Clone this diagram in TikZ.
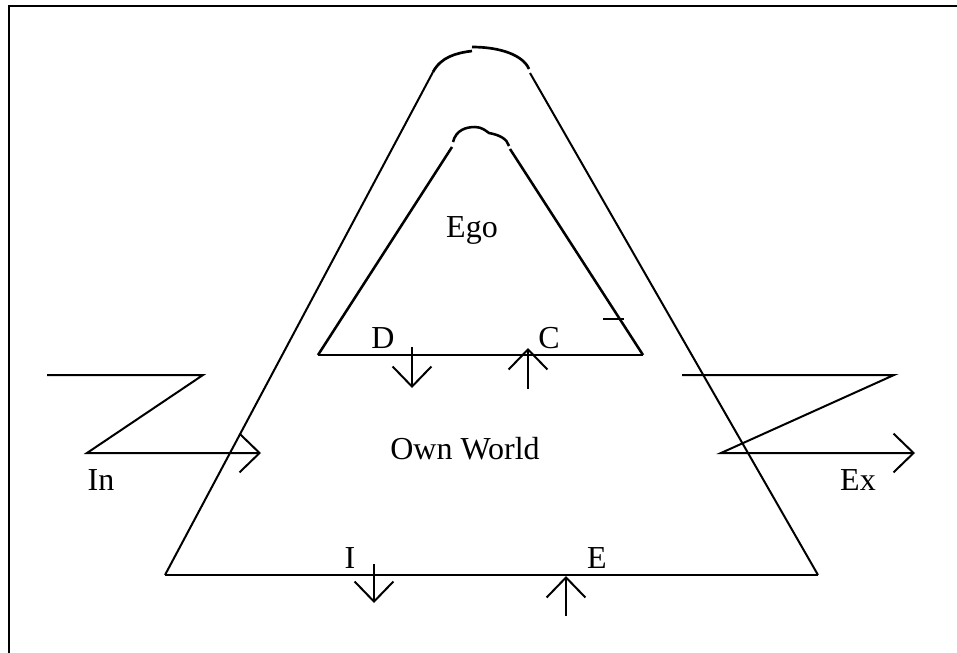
\documentclass[tikz,border=0pt]{standalone}
\usepackage{fontspec}
\setmainfont{Liberation Serif}
\usetikzlibrary{arrows.meta}
\begin{document}
\begin{tikzpicture}[x=0.75pt,y=-0.75pt,line width=1.5pt,
  >={Straight Barb[length=15pt,width=29pt]},
  lbl/.style={font=\fontsize{24}{28}\selectfont,inner sep=0pt},
  base/.style={line width=2pt},
  inner/.style={line width=1.9pt}]

  \useasboundingbox (0,0) rectangle (957,653);

  % frame
  \draw[line width=2.2pt] (9,653) -- (9,6) -- (957,6);

  % outer triangle
  \draw (433,72) -- (165,575);
  \draw[base] (165,575) -- (818,575);
  \draw (818,575) -- (530,73);
  \draw[base] (433,72) .. controls (441,57) and (456,53) .. (472,51);
  \draw[base] (472,47) .. controls (500,47) and (523,55) .. (529,69);

  % inner triangle
  \draw[inner] (452,147) -- (318,355);
  \draw[base] (318,355) -- (643,355);
  \draw[inner] (643,355) -- (510,149);
  \draw[inner] (453,142) .. controls (456,130) and (466,127) .. (475,127)
        .. controls (482,127) and (486,131) .. (489,133)
        .. controls (500,135) and (507,139) .. (509,146);
  \draw (603,319) -- (624,319);

  % labels
  \node[lbl] (ego) at (472,230) {Ego};
  \node[lbl] (own) at (465,449) {Own World};
  \node[lbl] (d) at (383,338) {D};
  \node[lbl] (c) at (549,338) {C};
  \node[lbl] (in) at (101,480) {In};
  \node[lbl] (ex) at (858,480) {Ex};
  \node[lbl] (i) at (350,558) {I};
  \node[lbl] (e) at (597,558) {E};

  % inner arrows
  \draw[->] (412,347) -- (412,388);
  \draw[->] (528,389) -- (528,348);

  % outer arrows
  \draw[->] (374,564) -- (374,603);
  \draw[->] (566,616) -- (566,576);

  % in and out
  \draw[->] (47,375) -- (203,375) -- (87,453) -- (261,453);
  \draw[->] (682,375) -- (894,375) -- (721,453) -- (915,453);

\end{tikzpicture}
\end{document}
